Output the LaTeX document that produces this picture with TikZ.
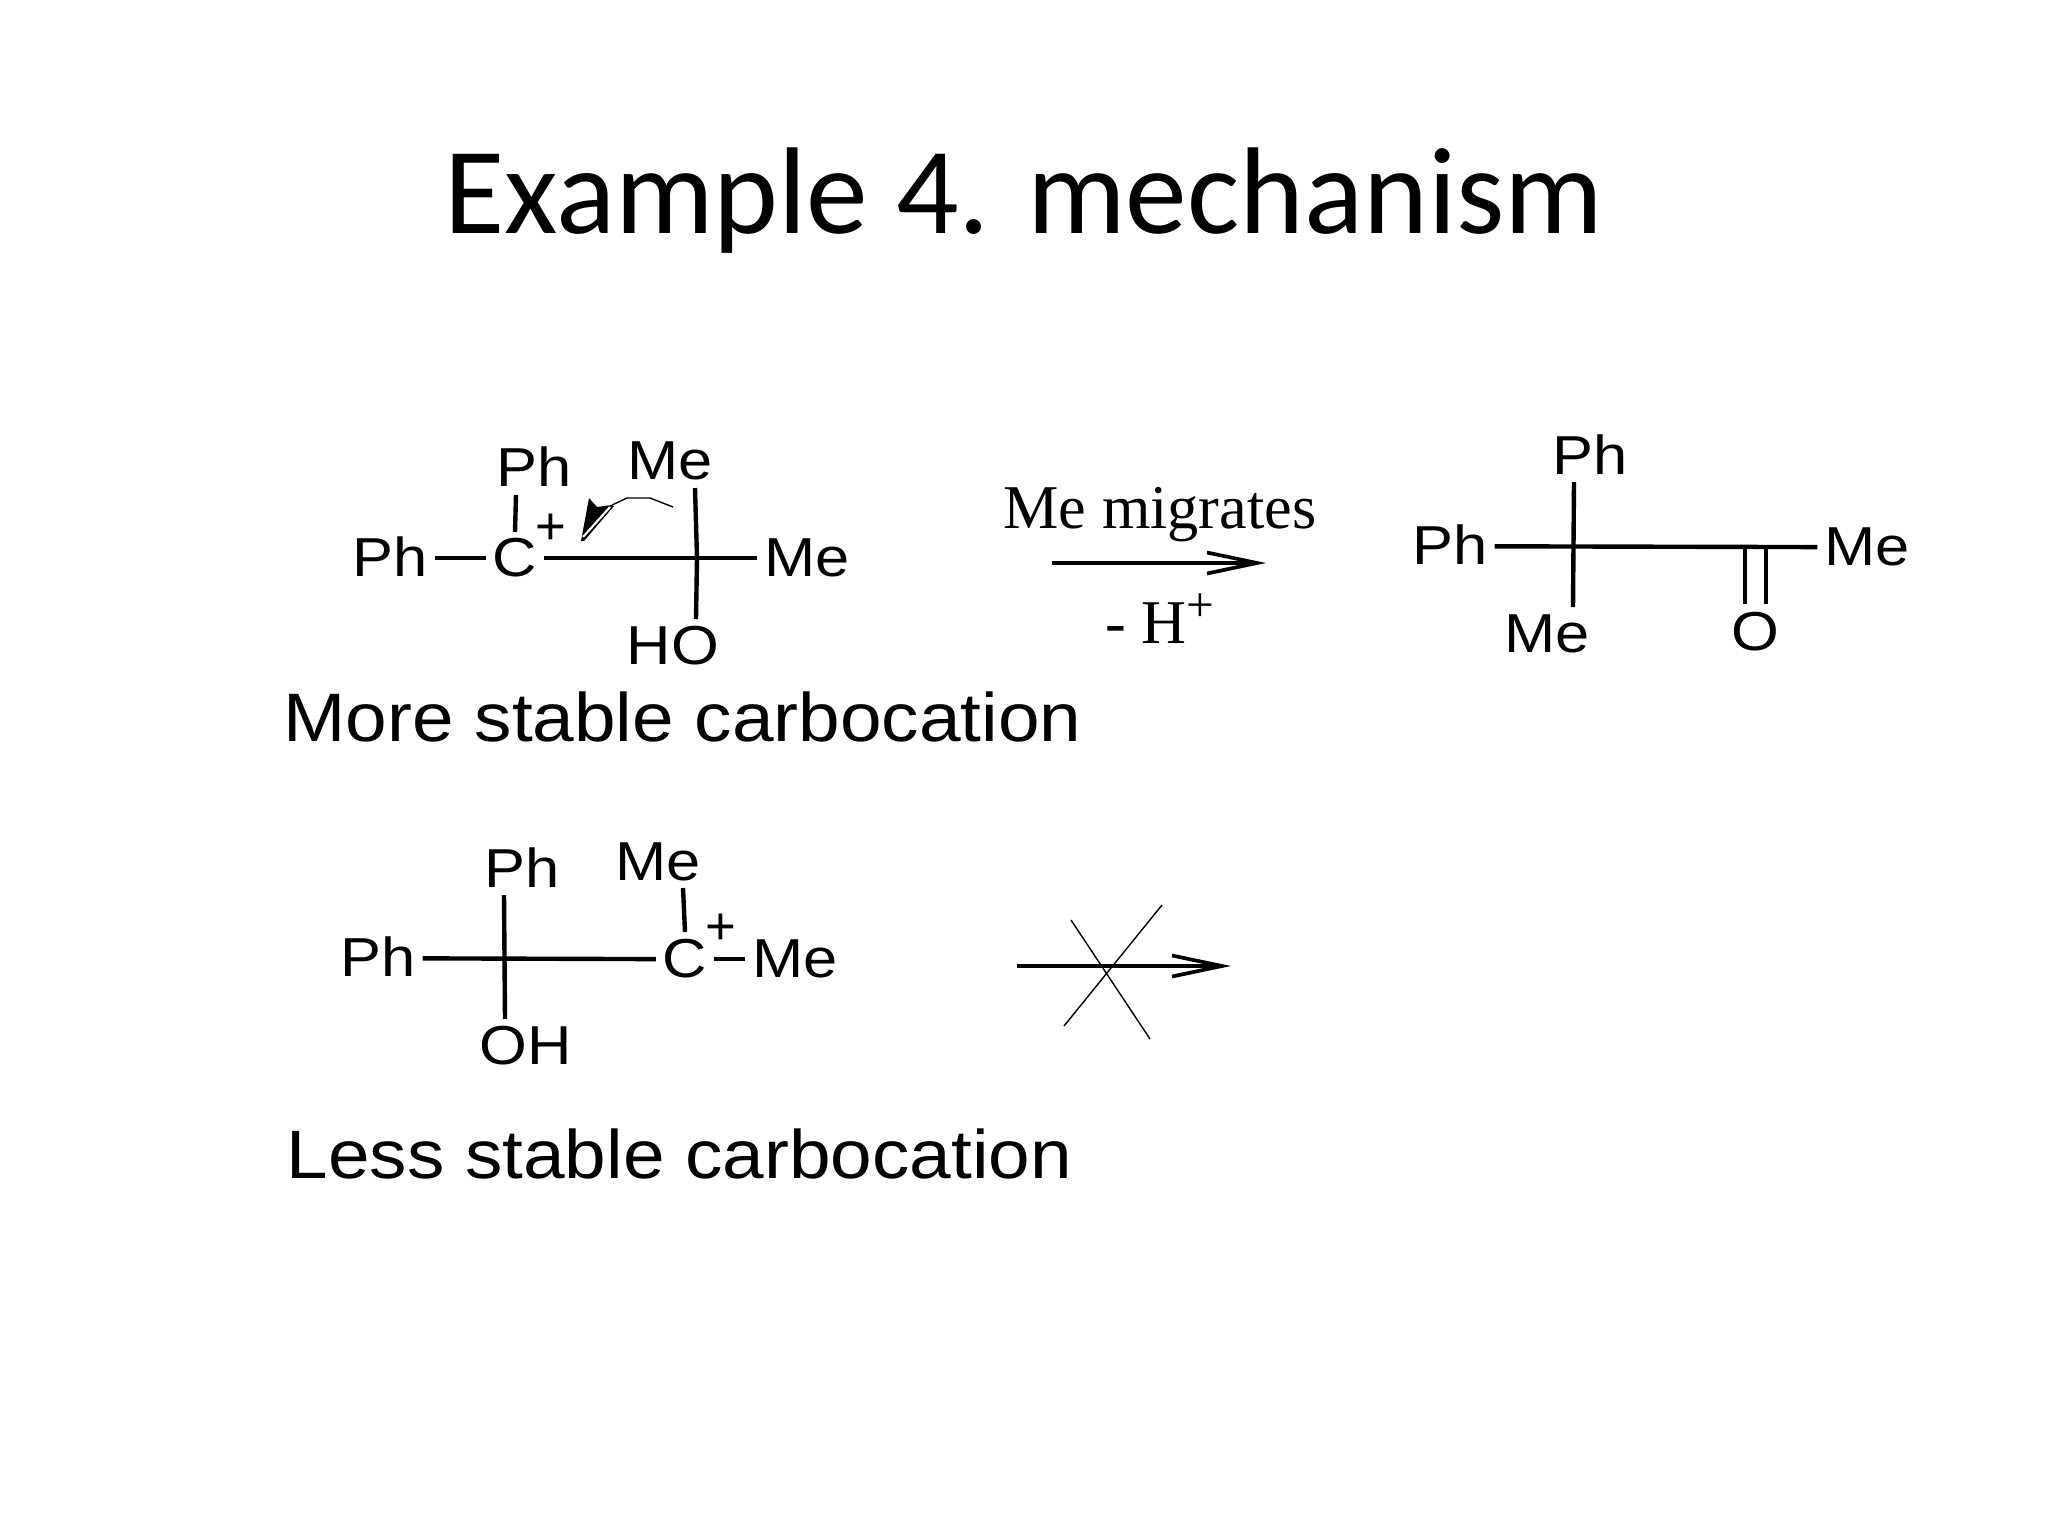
\documentclass[tikz,border=0pt]{standalone}
\usepackage{fontspec}
\setmainfont{Liberation Serif}
\setsansfont{Liberation Sans}
\newfontfamily\titlefont{Carlito}
\newfontfamily\atomfont[FakeStretch=1.12]{Liberation Sans}
\newfontfamily\capfont[FakeStretch=1.09]{Liberation Sans}
\usetikzlibrary{arrows.meta, positioning, calc}
\begin{document}
\begin{tikzpicture}[
	x=0.01cm, y=-0.01cm,
	% --- STYLES ---
	atom/.style={
		font=\atomfont\fontsize{15.6}{18}\selectfont,
		text height=0.36cm,
		text depth=0cm,
		inner sep=0pt,
		outer sep=0.07cm,
		yshift=-0.012cm
	},
	caption/.style={
		font=\capfont\fontsize{19.5}{24}\selectfont,
		anchor=base west,
		inner sep=0pt
	},
	charge/.style={
		font=\sffamily\fontsize{15}{18}\selectfont,
		inner sep=0pt
	},
	cond/.style={
		font=\fontsize{17.7}{20}\selectfont,
		anchor=base,
		inner sep=0pt
	},
	bond/.style={
		line width=1.25pt
	},
	line/.style={
		-{Straight Barb[length=0.5cm, width=0.21cm]},
		line width=1.05pt
	},
	cross/.style={
		line width=0.4pt
	}
	]
	\useasboundingbox[fill=white] (0,0) rectangle (2048,1536);
	
	% --- Title ---
	\node[anchor=base, inner sep=0pt, font=\titlefont\fontsize{35.1}{42}\selectfont] (title) at (1024,233) {Example 4. mechanism};
	
	% --- More stable carbocation ---
	\node[atom] (ph_a) at (390,557) {Ph};
	\node[atom] (c_a) at (515,557) {C};
	\node[atom] (ph_b) at (534,467) {Ph};
	\node[atom] (me_a) at (670,460) {Me};
	\node[atom] (me_b) at (807,557) {Me};
	\node[atom] (ho_a) at (673,645) {HO};
	\node[charge] (plus_a) at (551,529) {+};
	\node[caption] (cap_a) at (283,741) {More stable carbocation};
	
	\coordinate (bt_a) at (516,495);
	\coordinate (bb_a) at (515,532);
	\coordinate (vt_a) at (695,488);
	\coordinate (vm_a) at (697,558);
	\coordinate (vb_a) at (696,619);
	
	\draw[bond] (ph_a) -- (c_a);
	\draw[bond] (c_a) -- (me_b);
	\draw[bond] (bt_a) -- (bb_a);
	\draw[bond] (vt_a) -- (vm_a) -- (vb_a);
	
	% --- Curly arrow ---
	\coordinate (ct_a) at (673,507);
	\coordinate (ct_b) at (650,498);
	\coordinate (ct_c) at (627,498);
	\coordinate (ct_d) at (612,505);
	\draw[line width=0.4pt] (ct_a) -- (ct_b) -- (ct_c) -- (ct_d);
	\fill (581,541) -- (589,498) -- (597,507) -- (ct_d) -- (614,506) -- (584,541) -- cycle;
	\draw[white, line width=0.6pt] (583,537) -- (610,507);
	
	% --- Reaction arrow ---
	\coordinate (ar_a) at (1052,563);
	\coordinate (ar_b) at (1266,563);
	\draw[line] (ar_a) -- (ar_b);
	\node[cond] (mig) at (1160,528) {Me migrates};
	\node[cond] (hplus) at (1160,643) {- H\raisebox{0.75ex}{\fontsize{14}{16}\selectfont +}};
	
	% --- Product ---
	\node[atom] (ph_c) at (1590,455) {Ph};
	\node[atom] (ph_d) at (1450,545) {Ph};
	\node[atom] (me_c) at (1867,546) {Me};
	\node[atom] (me_d) at (1547,633) {Me};
	\node[atom] (o_a) at (1755,631) {O};
	
	\coordinate (vt_c) at (1574,482);
	\coordinate (vb_c) at (1573,607);
	\coordinate (dt_a) at (1745,547);
	\coordinate (db_a) at (1745,604);
	\coordinate (dt_b) at (1766,547);
	\coordinate (db_b) at (1766,604);
	
	\draw[bond] (ph_d) -- (me_c);
	\draw[bond] (vt_c) -- (vb_c);
	\draw[bond] (dt_a) -- (db_a);
	\draw[bond] (dt_b) -- (db_b);
	
	% --- Less stable carbocation ---
	\node[atom] (ph_e) at (378,957) {Ph};
	\node[atom] (ph_f) at (522,868) {Ph};
	\node[atom] (oh_a) at (526,1045) {OH};
	\node[atom] (me_e) at (658,861) {Me};
	\node[atom] (c_b) at (685,958) {C};
	\node[atom] (me_f) at (795,958) {Me};
	\node[charge] (plus_b) at (721,929) {+};
	\node[caption] (cap_b) at (286,1178) {Less stable carbocation};
	
	\coordinate (vt_e) at (504,895);
	\coordinate (vb_e) at (505,1019);
	\coordinate (bt_b) at (683,888);
	\coordinate (bb_b) at (685,932);
	
	\draw[bond] (ph_e) -- (c_b);
	\draw[bond] (c_b) -- (me_f);
	\draw[bond] (vt_e) -- (vb_e);
	\draw[bond] (bt_b) -- (bb_b);
	
	% --- Blocked arrow ---
	\coordinate (ar_c) at (1017,966);
	\coordinate (ar_d) at (1231,966);
	\coordinate (xa_a) at (1071,920);
	\coordinate (xa_b) at (1150,1039);
	\coordinate (xb_a) at (1162,905);
	\coordinate (xb_b) at (1064,1026);
	
	\draw[line] (ar_c) -- (ar_d);
	\draw[cross] (xa_a) -- (xa_b);
	\draw[cross] (xb_a) -- (xb_b);
\end{tikzpicture}
\end{document}
